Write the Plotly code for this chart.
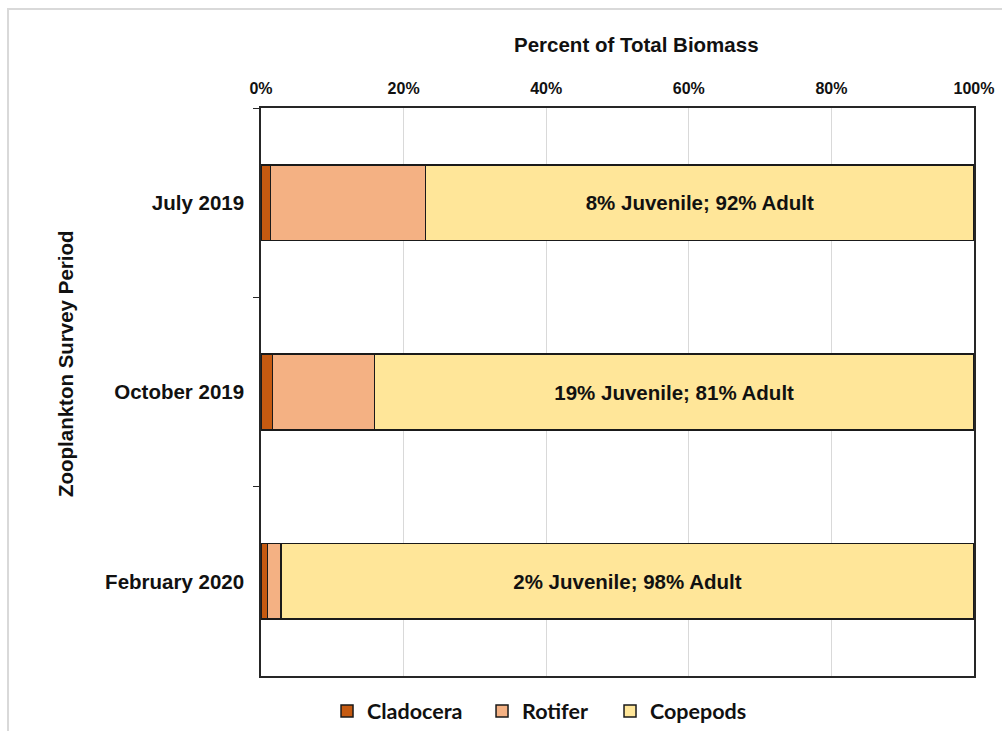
import plotly.graph_objects as go

# Survey periods (top to bottom) and share of total biomass per group, in percent
periods = ["July 2019", "October 2019", "February 2020"]
cladocera = [1.3, 1.6, 0.9]
rotifer = [21.8, 14.3, 1.9]
copepods = [76.9, 84.1, 97.2]
copepod_notes = ["8% Juvenile; 92% Adult", "19% Juvenile; 81% Adult", "2% Juvenile; 98% Adult"]

x_ticks = [0, 20, 40, 60, 80, 100]
x_tick_text = ["0%", "20%", "40%", "60%", "80%", "100%"]

groups = ["Cladocera", "Rotifer", "Copepods"]
colors = {"Cladocera": "#c55a11", "Rotifer": "#f4b183", "Copepods": "#ffe699"}
series = {"Cladocera": cladocera, "Rotifer": rotifer, "Copepods": copepods}
notes = {"Copepods": copepod_notes}

bold = "Arial"
ink = "#111111"
legend_x = {"Cladocera": 0.0926, "Rotifer": 0.31, "Copepods": 0.4895}
legend_ids = {"Cladocera": "legend", "Rotifer": "legend2", "Copepods": "legend3"}

fig = go.Figure()
for name in groups:
    text = notes.get(name)
    fig.add_trace(go.Bar(
        name=name,
        y=periods,
        x=series[name],
        orientation="h",
        width=0.4,
        marker=dict(color=colors[name], line=dict(color="#1a1a1a", width=1.5)),
        text=text,
        textposition="inside" if text else "none",
        insidetextanchor="middle",
        textangle=0,
        textfont=dict(family=bold, size=20.5, color=ink, weight="bold"),
        hoverinfo="x+y+name",
        legend=legend_ids[name],
    ))

legend_style = dict(
    y=-0.0616, yanchor="middle", xanchor="left",
    font=dict(family="Lato", size=21.5, color=ink, weight="bold"),
    itemwidth=30,
    bgcolor="rgba(0,0,0,0)",
)
legends = {
    lid: dict(x=legend_x[name], **legend_style)
    for name, lid in legend_ids.items()
}

axis_font = dict(family=bold, size=20.5, color=ink, weight="bold")

fig.update_layout(
    barmode="stack",
    width=1002,
    height=731,
    margin=dict(l=261, r=28, t=108, b=55, autoexpand=False),
    paper_bgcolor="white",
    plot_bgcolor="white",
    showlegend=True,
    **legends,
    xaxis=dict(
        side="top",
        range=[0, 100],
        tickvals=x_ticks,
        ticktext=x_tick_text,
        tickfont=dict(family=bold, size=16, color=ink, weight="bold"),
        ticklabelstandoff=6,
        showgrid=True,
        gridcolor="#d9d9d9",
        gridwidth=1,
        showline=True,
        linecolor="#262626",
        linewidth=1.5,
        mirror=True,
        ticks="",
        zeroline=False,
        automargin=False,
    ),
    yaxis=dict(
        categoryorder="array",
        categoryarray=periods,
        autorange="reversed",
        tickfont=axis_font,
        showline=True,
        linecolor="#262626",
        linewidth=1.5,
        mirror=True,
        ticks="outside",
        tickson="boundaries",
        ticklen=6,
        tickcolor="#262626",
        ticklabelstandoff=11,
        automargin=False,
    ),
    annotations=[
        dict(text="Percent of Total Biomass", xref="paper", yref="paper",
             x=0.527, y=1.111, xanchor="center", yanchor="middle",
             showarrow=False, font=axis_font),
        dict(text="Zooplankton Survey Period", xref="paper", yref="paper",
             x=-0.2749, y=0.551, xanchor="center", yanchor="middle",
             textangle=-90, showarrow=False, font=axis_font),
    ],
    shapes=[
        # light frame around the whole chart area
        dict(
            type="rect", xref="paper", yref="paper",
            x0=-0.3548, x1=1.05, y0=-0.15, y1=1.1743,
            line=dict(color="#d9d9d9", width=2),
            fillcolor="rgba(0,0,0,0)",
            layer="below",
        )
    ],
)

fig.write_html("out.html")
